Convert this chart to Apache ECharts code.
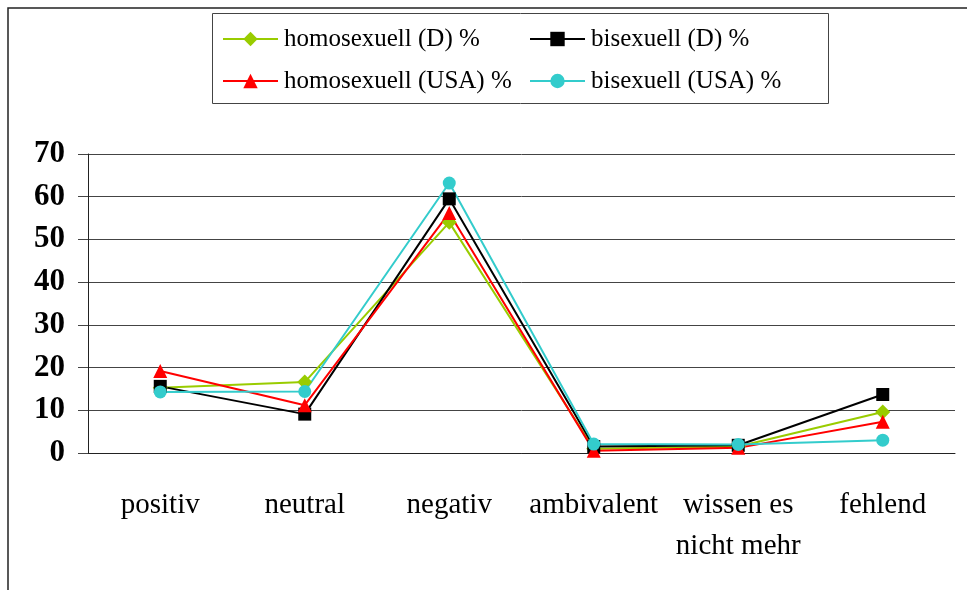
<!DOCTYPE html>
<html>
<head>
<meta charset="utf-8">
<script src="https://cdn.jsdelivr.net/npm/echarts@6/dist/echarts.min.js"></script>
<style>
  html, body { margin: 0; padding: 0; background: #fff; }
  #myChart { width: 967px; height: 590px; }
</style>
</head>
<body>
<div id="myChart"></div>
<script>
const categories = ["positiv", "neutral", "negativ", "ambivalent", "wissen es\nnicht mehr", "fehlend"];
const homoD = [15.3, 16.6, 54, 1, 1.5, 9.6];
const biD = [15.6, 9.1, 59.5, 1.5, 1.8, 13.7];
const homoUSA = [19.2, 11.2, 56.2, 0.5, 1.2, 7.3];
const biUSA = [14.3, 14.4, 63.2, 2.1, 2, 3];

const myEcharts = echarts.init(document.getElementById("myChart"));

const serif = "'Liberation Serif', 'Times New Roman', serif";

function mkSeries(name, data, color, symbol, size) {
  return {
    name: name,
    type: "line",
    data: data,
    symbol: symbol,
    symbolSize: size,
    showAllSymbol: true,
    lineStyle: { color: color, width: 2 },
    itemStyle: { color: color },
    emphasis: { disabled: true },
  };
}

// two vertical legends side by side, so the columns line up
const legendBase = {
  orient: "vertical",
  top: 21,
  padding: 0,
  itemWidth: 55,
  itemHeight: 18,
  itemGap: 6,
  textStyle: { fontFamily: serif, fontSize: 25, color: "#000", lineHeight: 36, padding: [0, 0, 0, 1] },
};

let option = {
  backgroundColor: "#fff",
  animation: false,
  graphic: [
    {
      type: "rect",
      shape: { x: 8, y: 8, width: 980, height: 600 },
      style: { fill: "none", stroke: "#222", lineWidth: 1.5 },
      silent: true,
    },
    {
      type: "rect",
      shape: { x: 212.5, y: 13.5, width: 616, height: 90 },
      style: { fill: "none", stroke: "#444", lineWidth: 1 },
      silent: true,
    },
  ],
  legend: [
    Object.assign({}, legendBase, { left: 222, data: ["homosexuell (D) %", "homosexuell (USA) %"] }),
    Object.assign({}, legendBase, { left: 529, data: ["bisexuell (D) %", "bisexuell (USA) %"] }),
  ],
  grid: { left: 88, right: 12, top: 154, bottom: 137 },
  xAxis: {
    type: "category",
    data: categories,
    boundaryGap: true,
    axisLine: { lineStyle: { color: "#222", width: 1 } },
    axisTick: { length: 8, interval: 0, lineStyle: { color: "#444" } },
    axisLabel: {
      interval: 0,
      margin: 32,
      fontFamily: serif,
      fontSize: 29,
      color: "#000",
      lineHeight: 41,
    },
  },
  yAxis: {
    type: "value",
    min: 0,
    max: 70,
    interval: 10,
    axisLine: { show: true, lineStyle: { color: "#222" } },
    axisTick: { show: true, length: 10, lineStyle: { color: "#444" } },
    axisLabel: { fontFamily: serif, fontSize: 31, fontWeight: "bold", color: "#000", margin: 23 },
    splitLine: { lineStyle: { color: "#444", width: 1 } },
  },
  series: [
    mkSeries("homosexuell (D) %", homoD, "#99cc00", "diamond", 15),
    mkSeries("bisexuell (D) %", biD, "#000000", "rect", 13),
    mkSeries("homosexuell (USA) %", homoUSA, "#ff0000", "triangle", 14),
    mkSeries("bisexuell (USA) %", biUSA, "#33cccc", "circle", 13),
  ],
};

myEcharts.setOption(option);
</script>
</body>
</html>
